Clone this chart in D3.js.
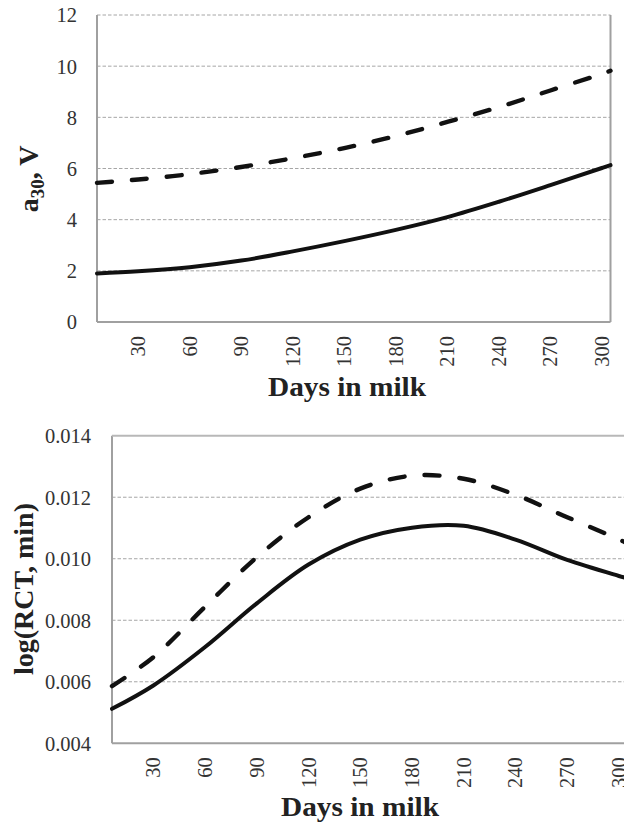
<!DOCTYPE html>
<html>
<head>
<meta charset="utf-8">
<script src="https://cdn.jsdelivr.net/npm/d3@7"></script>
<style>
  html, body { margin: 0; padding: 0; background: #fff; }
  svg { display: block; }
</style>
</head>
<body>
<svg id="chart" width="624" height="825"></svg>
<script>
// Days in milk at which each curve is sampled
const days = [6, 30, 60, 90, 120, 150, 180, 210, 240, 270, 300, 305];
const dayTicks = [30, 60, 90, 120, 150, 180, 210, 240, 270, 300];

// Upper panel: a30 (V)
const a30Solid  = [1.90, 1.98, 2.14, 2.40, 2.76, 3.16, 3.60, 4.10, 4.70, 5.35, 6.02, 6.13];
const a30Dashed = [5.44, 5.57, 5.78, 6.06, 6.40, 6.80, 7.27, 7.82, 8.40, 9.05, 9.70, 9.82];
const a30Ticks  = [0, 2, 4, 6, 8, 10, 12];

// Lower panel: log(RCT, min)
const rctSolid  = [0.00512, 0.00588, 0.00713, 0.00855, 0.00981, 0.01062, 0.01101, 0.01107, 0.01062, 0.00996, 0.00944, 0.00936];
const rctDashed = [0.00586, 0.00680, 0.00844, 0.01005, 0.01135, 0.01228, 0.01270, 0.01260, 0.01208, 0.01135, 0.01063, 0.01050];
const rctTicks  = [0.004, 0.006, 0.008, 0.010, 0.012, 0.014];

const FONT = "'Liberation Serif', 'Times New Roman', serif";
const svg = d3.select("#chart");

function panel(cfg) {
  const x = d3.scaleLinear().domain([6, 305]).range([cfg.left, cfg.right]);
  const y = d3.scaleLinear().domain(cfg.yDomain).range([cfg.bottom, cfg.top]);
  const g = svg.append("g");

  // horizontal dashed gridlines
  g.append("g").selectAll("line")
    .data(cfg.yTicks.filter(t => t !== cfg.yDomain[0] && !(cfg.solidTop && t === cfg.yDomain[1])))
    .join("line")
    .attr("x1", cfg.left).attr("x2", Math.min(cfg.right, 624))
    .attr("y1", d => y(d)).attr("y2", d => y(d))
    .attr("stroke", "#a6a6a6").attr("stroke-width", 1)
    .attr("stroke-dasharray", "3.5,2");

  // plot frame
  const frame = g.append("g").attr("stroke", "#a0a0a0").attr("stroke-width", 2).attr("fill", "none");
  frame.append("line").attr("x1", cfg.left).attr("x2", cfg.left).attr("y1", cfg.top).attr("y2", cfg.bottom);
  frame.append("line").attr("x1", cfg.left).attr("x2", cfg.right).attr("y1", cfg.bottom).attr("y2", cfg.bottom);
  if (cfg.right <= 624) {
    frame.append("line").attr("x1", cfg.right).attr("x2", cfg.right).attr("y1", cfg.top).attr("y2", cfg.bottom);
  }
  if (cfg.solidTop) {
    frame.append("line").attr("x1", cfg.left).attr("x2", cfg.right).attr("y1", cfg.top).attr("y2", cfg.top)
      .attr("stroke", "#b8b8b8");
  }

  // y axis labels
  const yAxis = d3.axisLeft(y).tickValues(cfg.yTicks).tickSize(0).tickPadding(0).tickFormat(cfg.yFormat);
  const ya = g.append("g").attr("transform", `translate(${cfg.yLabelX},0)`).call(yAxis);
  ya.select(".domain").remove();
  ya.selectAll("text").attr("font-family", FONT).attr("font-size", 20.5).attr("fill", "#333")
    .attr("dy", "0.34em");

  // x axis labels (rotated)
  const xa = g.append("g");
  xa.selectAll("text").data(dayTicks).join("text")
    .attr("transform", d => `translate(${x(d)},${cfg.bottom + 14}) rotate(-90)`)
    .attr("text-anchor", "end").attr("dy", "0.34em")
    .attr("font-family", FONT).attr("font-size", 20.5).attr("fill", "#333")
    .text(d => d);

  // curves
  const line = vals => d3.line().x((d, i) => x(days[i])).y(d => y(d))
    .curve(d3.curveCatmullRom.alpha(0.5))(vals);
  g.append("path").attr("d", line(cfg.solid))
    .attr("fill", "none").attr("stroke", "#111").attr("stroke-width", 4).attr("stroke-linecap", "round");
  g.append("path").attr("d", line(cfg.dashed))
    .attr("fill", "none").attr("stroke", "#111").attr("stroke-width", 4.4)
    .attr("stroke-linecap", "round").attr("stroke-dasharray", "15,20");

  // x title
  g.append("text")
    .attr("x", cfg.xTitleX).attr("y", cfg.xTitleY)
    .attr("text-anchor", "middle")
    .attr("font-family", FONT).attr("font-weight", "bold").attr("font-size", 27).attr("fill", "#222")
    .attr("textLength", 158).attr("lengthAdjust", "spacingAndGlyphs")
    .text("Days in milk");

  return { g, x, y };
}

// Upper panel
const p1 = panel({
  left: 97, right: 610.5, top: 15, bottom: 322,
  yDomain: [0, 12], yTicks: a30Ticks, yFormat: d3.format("d"), yLabelX: 77,
  solid: a30Solid, dashed: a30Dashed, solidTop: false,
  xTitleX: 347, xTitleY: 396
});
const t1 = p1.g.append("text")
  .attr("transform", "translate(38,179) rotate(-90)")
  .attr("text-anchor", "middle")
  .attr("font-family", FONT).attr("font-weight", "bold").attr("font-size", 28).attr("fill", "#222");
t1.append("tspan").text("a");
t1.append("tspan").attr("font-size", 19).attr("dy", 6).text("30");
t1.append("tspan").attr("dy", -6).text(", V");

// Lower panel
const p2 = panel({
  left: 112, right: 627.5, top: 435.7, bottom: 743.3,
  yDomain: [0.004, 0.014], yTicks: rctTicks, yFormat: d3.format(".3f"), yLabelX: 91,
  solid: rctSolid, dashed: rctDashed, solidTop: true,
  xTitleX: 360, xTitleY: 816
});
p2.g.append("text")
  .attr("transform", "translate(33,589) rotate(-90)")
  .attr("text-anchor", "middle")
  .attr("font-family", FONT).attr("font-weight", "bold").attr("font-size", 27).attr("fill", "#222")
  .attr("textLength", 172).attr("lengthAdjust", "spacingAndGlyphs")
  .text("log(RCT, min)");
</script>
</body>
</html>
